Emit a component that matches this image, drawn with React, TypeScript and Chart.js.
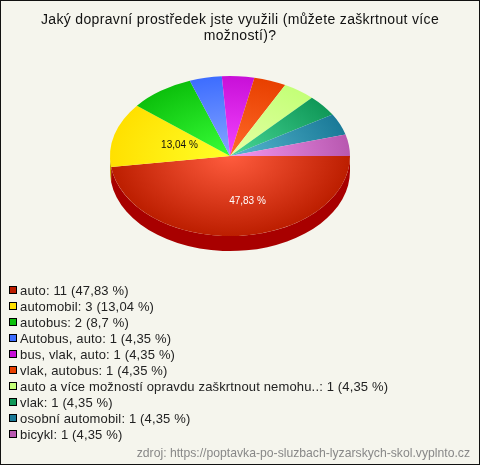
import React, { useEffect, useRef } from "react";
import { Chart, registerables } from "chart.js";

Chart.register(...registerables);

const titleLines = ["Jaký dopravní prostředek jste využili (můžete zaškrtnout více", "možností)?"];
const categories = [
  "auto", "automobil", "autobus", "Autobus, auto", "bus, vlak, auto", "vlak, autobus",
  "auto a více možností opravdu zaškrtnout nemohu..", "vlak", "osobní automobil", "bicykl",
];
const counts = [11, 3, 2, 1, 1, 1, 1, 1, 1, 1];
const percentLabels = ["47,83", "13,04", "8,7", "4,35", "4,35", "4,35", "4,35", "4,35", "4,35", "4,35"];
const edgeColors = ["#bc1e00", "#ffe000", "#0cc00c", "#3d6dff", "#c810d8", "#e84000", "#c4ff78", "#109858", "#1a7a98", "#b858b0"];
const lightColors = ["#ff5c3e", "#ffff28", "#38ff38", "#86a6ff", "#f444ff", "#ff6a2a", "#e4ffa4", "#48d898", "#58b8d0", "#f498f0"];
const sideColors = ["#a80000", "#c8a800", "#089008", "#2850c8", "#9808a8", "#b02800", "#98c858", "#087040", "#105870", "#884080"];
const sliceLabels: (string | null)[] = ["47,83 %", "13,04 %", null, null, null, null, null, null, null, null];
const sliceLabelColors = ["#ffffff", "#111111"];
const sourceText = "zdroj: https://poptavka-po-sluzbach-lyzarskych-skol.vyplnto.cz";

const BG = "#f5f5ed";
const FONT = "'Liberation Sans', Arial, sans-serif";
const RADIUS = 120;
const SQUASH = 80 / 120;
const DEPTH = 15;
const SHIFT_X = -10;

const tiltPlugin = {
  id: "tilt",
  beforeDraw(chart: any) {
    chart.ctx.letterSpacing = "0.34px";
  },
  beforeDatasetsDraw(chart: any) {
    const ctx = chart.ctx;
    ctx.letterSpacing = "0px";
    const arcs = chart.getDatasetMeta(0).data;
    const { x: cx, y: cy } = arcs[0];
    ctx.save();
    ctx.translate(cx + SHIFT_X, cy);
    ctx.scale(1, SQUASH);
    ctx.translate(-cx, -cy);
    const d = DEPTH / SQUASH;
    arcs.forEach((a: any, i: number) => {
      const start = Math.max(a.startAngle, 0);
      const end = Math.min(a.endAngle, Math.PI);
      if (end <= start) return;
      ctx.beginPath();
      ctx.arc(cx, cy, a.outerRadius, start, end);
      ctx.arc(cx, cy + d, a.outerRadius, end, start, true);
      ctx.closePath();
      ctx.fillStyle = sideColors[i];
      ctx.fill();
    });
  },
  afterDatasetsDraw(chart: any) {
    const ctx = chart.ctx;
    ctx.restore();
    const arcs = chart.getDatasetMeta(0).data;
    ctx.save();
    ctx.font = `10px ${FONT}`;
    ctx.textAlign = "center";
    ctx.textBaseline = "middle";
    sliceLabels.forEach((t, i) => {
      if (!t) return;
      const a = arcs[i];
      const mid = (a.startAngle + a.endAngle) / 2;
      const r = a.outerRadius * 0.55;
      ctx.fillStyle = sliceLabelColors[i];
      ctx.fillText(t, a.x + SHIFT_X + r * Math.cos(mid) + 13, a.y + r * SQUASH * Math.sin(mid) + 1.5);
    });
    ctx.restore();
  },
};

export default function App() {
  const ref = useRef<HTMLCanvasElement>(null);
  useEffect(() => {
    const canvas = ref.current!;
    const chart = new Chart(canvas, {
      type: "pie",
      data: {
        labels: categories,
        datasets: [
          {
            data: counts,
            borderWidth: 0,
            clip: false,
            backgroundColor: (c: any) => {
              const area = c.chart.chartArea;
              if (!area) return edgeColors[c.dataIndex];
              const x = (area.left + area.right) / 2;
              const y = (area.top + area.bottom) / 2;
              const g = c.chart.ctx.createRadialGradient(x, y, 0, x, y, RADIUS);
              g.addColorStop(0, lightColors[c.dataIndex]);
              g.addColorStop(1, edgeColors[c.dataIndex]);
              return g;
            },
          } as any,
        ],
      },
      options: {
        responsive: false,
        animation: false,
        rotation: 90,
        radius: RADIUS,
        layout: { padding: { left: 0, right: 0, top: 0, bottom: 203 } },
        plugins: {
          legend: { display: false },
          tooltip: { enabled: false },
          title: {
            display: true,
            text: titleLines,
            color: "#111111",
            font: { family: FONT, size: 14, weight: "normal", lineHeight: 1.08 },
            padding: { top: 13, bottom: 7 },
          },
        },
      } as any,
      plugins: [tiltPlugin],
    });
    return () => chart.destroy();
  }, []);

  return (
    <div style={{ position: "fixed", left: 0, top: 0, width: 480, height: 465, background: BG, fontFamily: FONT, overflow: "hidden" }}>
      <canvas ref={ref} width={480} height={465} style={{ position: "absolute", left: 0, top: 0, display: "block" }} />
      {categories.map((c, i) => (
        <div key={c} style={{ position: "absolute", left: 9, top: 282 + i * 16, height: 16, display: "flex", alignItems: "center", fontSize: 13, letterSpacing: 0.15, color: "#222222", whiteSpace: "nowrap" }}>
          <span style={{ width: 8, height: 8, boxSizing: "border-box", border: "1px solid #000", background: edgeColors[i], marginRight: 3 }} />
          <span>{`${c}: ${counts[i]} (${percentLabels[i]} %)`}</span>
        </div>
      ))}
      <div style={{ position: "absolute", right: 10, top: 446, fontSize: 12.2, lineHeight: "14px", color: "#888888", whiteSpace: "nowrap" }}>{sourceText}</div>
      <div style={{ position: "absolute", inset: 0, boxSizing: "border-box", border: "1px solid #111", pointerEvents: "none" }} />
    </div>
  );
}
